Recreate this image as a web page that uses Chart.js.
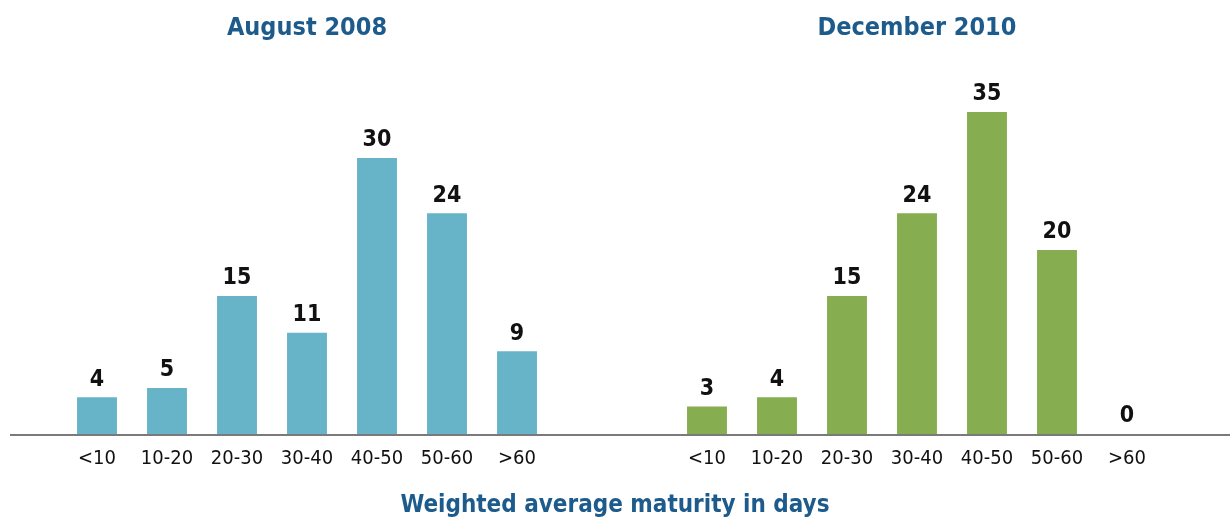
<!DOCTYPE html>
<html>
<head>
<meta charset="utf-8">
<script src="https://cdn.jsdelivr.net/npm/chart.js@4"></script>
<style>
  body { margin: 0; background: #fff; }
  #wrap { position: relative; width: 1230px; height: 519px; }
  .box { position: absolute; top: 0; width: 615px; height: 519px; }
  #axisTitle {
    position: absolute; left: 0; width: 1230px; top: 490px; text-align: center;
    font: bold 24px "Liberation Sans Narrow", "DejaVu Sans Condensed", sans-serif;
    color: #1d5b8c;
  }
</style>
</head>
<body>
<div id="wrap">
  <div class="box" style="left:0"><canvas id="chartLeft"></canvas></div>
  <div class="box" style="left:615px"><canvas id="chartRight"></canvas></div>
  <div id="axisTitle">Weighted average maturity in days</div>
</div>
<script>
// bucket labels (days)
const buckets = ['<10', '10-20', '20-30', '30-40', '40-50', '50-60', '>60'];
const aug2008 = [4, 5, 15, 11, 30, 24, 9];
const dec2010 = [3, 4, 15, 24, 35, 20, 0];
const titles = ['August 2008', 'December 2010'];

const narrow = '"Liberation Sans Narrow", "DejaVu Sans Condensed", sans-serif';

// value labels above each bar
const barLabels = {
    id: 'barLabels',
    afterDatasetsDraw(chart) {
        const c = chart.ctx;
        c.save();
        c.font = 'bold 23px ' + narrow;
        c.fillStyle = '#111';
        c.textAlign = 'center';
        c.textBaseline = 'bottom';
        chart.getDatasetMeta(0).data.forEach((bar, i) => {
            c.fillText(chart.data.datasets[0].data[i], bar.x, bar.y - 6);
        });
        c.restore();
    }
};

// gray baseline running across the canvas at zero
const baseline = {
    id: 'baseline',
    afterDraw(chart, args, opts) {
        const c = chart.ctx;
        const y = chart.scales.y.getPixelForValue(0);
        c.save();
        c.strokeStyle = '#7a7a7a';
        c.lineWidth = 2;
        c.beginPath();
        c.moveTo(opts.start || 0, y + 1);
        c.lineTo(chart.width, y + 1);
        c.stroke();
        c.restore();
    }
};

function makeChart(id, title, values, color, padLeft, padRight, lineStart) {
    const ctx = document.getElementById(id).getContext('2d');
    return new Chart(ctx, {
        type: 'bar',
        data: {
            labels: buckets,
            datasets: [{
                data: values,
                backgroundColor: color,
                categoryPercentage: 1,
                barPercentage: 0.57
            }]
        },
        options: {
            responsive: true,
            maintainAspectRatio: false,
            animation: false,
            layout: { padding: { left: padLeft, right: padRight, bottom: 35 } },
            plugins: {
                legend: { display: false },
                tooltip: { enabled: false },
                title: {
                    display: true,
                    text: title,
                    color: '#1d5b8c',
                    font: { family: narrow, size: 25, weight: 'bold' },
                    padding: { top: 13, bottom: 23 }
                },
                baseline: { start: lineStart }
            },
            scales: {
                x: {
                    grid: { display: false, drawTicks: false },
                    border: { display: false },
                    ticks: { color: '#111', font: { family: narrow, size: 20 }, padding: 13 }
                },
                y: { display: false, min: 0, max: 40 }
            }
        },
        plugins: [barLabels, baseline]
    });
}

makeChart('chartLeft', titles[0], aug2008, '#67b3c7', 62, 63, 10);
makeChart('chartRight', titles[1], dec2010, '#86ad4f', 57, 68, 0);
</script>
</body>
</html>
